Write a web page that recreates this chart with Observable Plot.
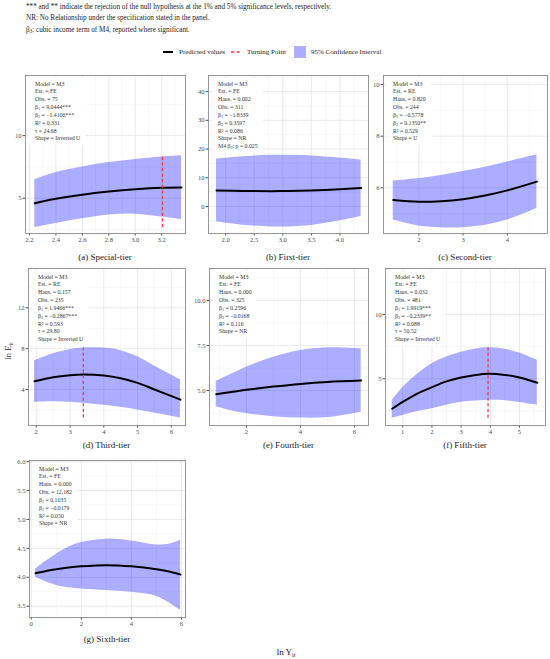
<!DOCTYPE html>
<html><head><meta charset="utf-8">
<script src="https://cdn.jsdelivr.net/npm/d3@7"></script>
<script src="https://cdn.jsdelivr.net/npm/@observablehq/plot@0.6"></script>
<style>
body{margin:0;background:#fff;}
#root{position:relative;width:550px;height:659px;font-family:"Liberation Serif","Times New Roman",serif;overflow:hidden;background:#fff;}
.abs{position:absolute;white-space:nowrap;}
.note{left:26px;font-size:7.2px;line-height:11.7px;color:#1a1a1a}
.ann{position:absolute;background:#fff;font-size:5.8px;line-height:7.85px;padding:2.5px 5px 2px 6px;color:#333;white-space:nowrap}
.ann sub,.note sub{font-size:70%;vertical-align:-1px;line-height:0}
.cap{position:absolute;font-size:9px;transform:translate(-50%,-50%);color:#1a1a1a;white-space:nowrap}
.leg{position:absolute;font-size:7px;line-height:10px;color:#1a1a1a;white-space:nowrap;top:47px}
</style></head>
<body><div id="root"></div>
<script>
// ---------- data ----------
// (a) Special-tier
const aX   = [2.24, 2.4, 2.6, 2.8, 3.0, 3.2, 3.35];
const aFit = [4.6, 4.95, 5.28, 5.53, 5.72, 5.84, 5.86];
const aHi  = [6.47, 7.05, 7.5, 7.85, 8.1, 8.3, 8.4];
const aLo  = [2.65, 2.98, 3.35, 3.65, 3.72, 3.5, 3.3];
const aTP  = 3.206;
const aXTicks = [2.2, 2.4, 2.6, 2.8, 3.0, 3.2];
const aYTicks = [5, 10];
// (b) First-tier
const bX   = [1.84, 2.3, 2.8, 3.1, 3.5, 4.0, 4.37];
const bFit = [5.6, 5.4, 5.35, 5.4, 5.6, 6.0, 6.4];
const bHi  = [16.5, 17.3, 17.8, 17.8, 17.6, 16.9, 16.2];
const bLo  = [-5.3, -6.5, -7.1, -7.1, -6.6, -5.0, -3.5];
const bXTicks = [2.0, 2.5, 3.0, 3.5, 4.0];
const bYTicks = [0, 10, 20, 30, 40];
// (c) Second-tier
const cX   = [1.42, 2.0, 2.5, 3.0, 3.5, 4.0, 4.67];
const cFit = [5.53, 5.46, 5.48, 5.56, 5.7, 5.9, 6.24];
const cHi  = [6.26, 6.36, 6.48, 6.63, 6.8, 7.0, 7.28];
const cLo  = [4.75, 4.52, 4.45, 4.45, 4.55, 4.75, 5.2];
const cXTicks = [2, 3, 4];
const cYTicks = [6, 8, 10];
// (d) Third-tier
const dX   = [1.95, 2.5, 3.0, 3.4, 4.0, 4.5, 5.0, 5.5, 6.27];
const dFit = [4.8, 5.2, 5.4, 5.47, 5.37, 5.1, 4.65, 4.0, 3.0];
const dHi  = [6.8, 7.5, 7.9, 8.05, 8.05, 7.8, 7.2, 6.3, 4.95];
const dLo  = [2.75, 2.8, 2.75, 2.65, 2.45, 2.25, 2.0, 1.7, 1.2];
const dTP  = 3.394;
const dXTicks = [2, 3, 4, 5, 6];
const dYTicks = [4, 8, 12];
// (e) Fourth-tier
const eX   = [0.88, 1.5, 2, 3, 4, 5, 6.25];
const eFit = [4.8, 4.93, 5.04, 5.22, 5.37, 5.48, 5.56];
const eHi  = [5.52, 5.95, 6.3, 6.85, 7.22, 7.38, 7.32];
const eLo  = [4.1, 3.85, 3.72, 3.55, 3.47, 3.5, 3.8];
const eXTicks = [2, 4, 6];
const eYTicks = [5.0, 7.5, 10.0];
// (f) Fifth-tier
const fX   = [0.64, 1, 1.5, 2, 2.5, 3, 3.5, 3.94, 4.5, 5, 5.61];
const fFit = [2.67, 3.2, 3.85, 4.35, 4.8, 5.1, 5.3, 5.39, 5.3, 5.1, 4.69];
const fHi  = [3.32, 4.3, 5.35, 6.17, 6.7, 7.07, 7.32, 7.41, 7.3, 7.0, 6.43];
const fLo  = [1.94, 2.15, 2.45, 2.67, 2.95, 3.18, 3.28, 3.32, 3.3, 3.15, 2.94];
const fTP  = 3.922;
const fXTicks = [1, 2, 3, 4, 5];
const fYTicks = [5, 10];
// (g) Sixth-tier
const gX   = [0.17, 0.6, 1, 1.5, 2, 3, 4, 5, 5.5, 5.96];
const gFit = [4.07, 4.11, 4.14, 4.17, 4.19, 4.21, 4.19, 4.14, 4.1, 4.05];
const gHi  = [4.14, 4.28, 4.4, 4.52, 4.6, 4.66, 4.63, 4.56, 4.57, 4.64];
const gLo  = [4.0, 3.92, 3.86, 3.82, 3.8, 3.77, 3.74, 3.67, 3.56, 3.43];
const gXTicks = [0, 2, 4, 6];
const gYTicks = [3.5, 4.0, 4.5, 5.0, 5.5, 6.0];

const panelTitles = ["(a) Special-tier","(b) First-tier","(c) Second-tier","(d) Third-tier","(e) Fourth-tier","(f) Fifth-tier","(g) Sixth-tier"];
const annA = ["Model = M3","Est. = FE","Obs. = 75","β<sub>1</sub> = 9.0444***","β<sub>2</sub> = −1.4106***","R² = 0.331","τ = 24.68","Shape = Inverted U"];
const annB = ["Model = M3","Est. = FE","Haus. = 0.002","Obs. = 311","β<sub>1</sub> = −1.8339","β<sub>2</sub> = 0.3597","R² = 0.086","Shape = NR","M4 β<sub>3</sub>: p = 0.025"];
const annC = ["Model = M3","Est. = RE","Haus. = 0.820","Obs. = 244","β<sub>1</sub> = −0.5778","β<sub>2</sub> = 0.1350**","R² = 0.529","Shape = U"];
const annD = ["Model = M3","Est. = RE","Haus. = 0.157","Obs. = 235","β<sub>1</sub> = 1.9466***","β<sub>2</sub> = −0.2867***","R² = 0.593","τ = 29.80","Shape = Inverted U"];
const annE = ["Model = M3","Est. = FE","Haus. = 0.000","Obs. = 325","β<sub>1</sub> = 0.2596","β<sub>2</sub> = −0.0168","R² = 0.116","Shape = NR"];
const annF = ["Model = M3","Est. = FE","Haus. = 0.032","Obs. = 481","β<sub>1</sub> = 1.9919***","β<sub>2</sub> = −0.2339**","R² = 0.088","τ = 50.52","Shape = Inverted U"];
const annG = ["Model = M3","Est. = FE","Haus. = 0.000","Obs. = 12,182","β<sub>1</sub> = 0.1035","β<sub>2</sub> = −0.0179","R² = 0.050","Shape = NR"];

const notes = [
  "*** and ** indicate the rejection of the null hypothesis at the 1% and 5% significance levels, respectively.",
  "NR: No Relationship under the specification stated in the panel.",
  "β<sub>3</sub>: cubic income term of M4, reported where significant."
];
const legendLabels = ["Predicted values", "Turning Point", "95% Confidence Interval"];

// ---------- layout ----------
const root = document.getElementById("root");
const f1 = d3.format(".1f");

function mids(t, lo, hi) {
  const step = t[1] - t[0];
  const out = [];
  for (let v = t[0] - step / 2; v <= hi; v += step) if (v >= lo) out.push(+v.toFixed(4));
  return out;
}

function makePanel(p) {
  const ML = 26, MR = 6, MT = 4, MB = 16;
  const w = p.fx[1] - p.fx[0], h = p.fy[1] - p.fy[0];
  const rows = p.x.map((x, i) => ({x, fit: p.fit[i], lo: p.lo[i], hi: p.hi[i]}));
  const marks = [
    Plot.ruleX(mids(p.xTicks, p.xDom[0], p.xDom[1]), {stroke: "#eeeeee", strokeWidth: 0.45}),
    Plot.ruleY(mids(p.yTicks, p.yDom[0], p.yDom[1]), {stroke: "#eeeeee", strokeWidth: 0.45}),
    Plot.ruleX(p.xTicks, {stroke: "#e4e4e4", strokeWidth: 0.8}),
    Plot.ruleY(p.yTicks, {stroke: "#e4e4e4", strokeWidth: 0.8}),
    Plot.areaY(rows, {x: "x", y1: "lo", y2: "hi", fill: "#0000ff", fillOpacity: 0.32, curve: "catmull-rom", clip: true}),
    Plot.lineY(rows, {x: "x", y: "fit", stroke: "#000", strokeWidth: 2, curve: "catmull-rom", clip: true})
  ];
  if (p.tp != null) {
    marks.push(Plot.ruleX([{x: p.tp, y1: d3.min(p.lo), y2: d3.max(p.hi)}],
      {x: "x", y1: "y1", y2: "y2", stroke: "#ee3d4c", strokeWidth: 1.3, strokeDasharray: "3.2,2.4"}));
  }
  marks.push(Plot.frame({stroke: "#8c8c8c", strokeWidth: 0.9}));
  const svg = Plot.plot({
    width: w + ML + MR, height: h + MT + MB,
    marginLeft: ML, marginRight: MR, marginTop: MT, marginBottom: MB,
    style: {fontFamily: "Liberation Serif, serif", fontSize: "6.6px", color: "#4d4d4d", background: "none", overflow: "visible"},
    x: {domain: p.xDom, ticks: p.xTicks, tickFormat: p.xFmt, tickSize: 2.5, tickPadding: 1.5, label: null},
    y: {domain: p.yDom, ticks: p.yTicks, tickFormat: p.yFmt, tickSize: 2.5, tickPadding: 1.5, label: null},
    marks
  });
  svg.style.position = "absolute";
  svg.style.left = (p.fx[0] - ML) + "px";
  svg.style.top = (p.fy[0] - MT) + "px";
  root.appendChild(svg);

  const ann = document.createElement("div");
  ann.className = "ann";
  ann.style.left = (p.fx[0] + 4) + "px";
  ann.style.top = (p.fy[0] + 3) + "px";
  ann.innerHTML = p.ann.join("<br>");
  root.appendChild(ann);

  const cap = document.createElement("div");
  cap.className = "cap";
  cap.style.left = ((p.fx[0] + p.fx[1]) / 2) + "px";
  cap.style.top = p.capY + "px";
  cap.textContent = p.title;
  root.appendChild(cap);
}

const panels = [
  {fx: [25, 185], fy: [75, 233], xDom: [2.17, 3.38], yDom: [2.18, 14.8], x: aX, fit: aFit, lo: aLo, hi: aHi, tp: aTP, xTicks: aXTicks, yTicks: aYTicks, xFmt: f1, yFmt: d3.format("d"), ann: annA, title: panelTitles[0], capY: 257},
  {fx: [208, 368], fy: [75, 233], xDom: [1.70, 4.50], yDom: [-9.4, 45.6], x: bX, fit: bFit, lo: bLo, hi: bHi, tp: null, xTicks: bXTicks, yTicks: bYTicks, xFmt: f1, yFmt: d3.format("d"), ann: annB, title: panelTitles[1], capY: 257},
  {fx: [383, 547], fy: [75, 233], xDom: [1.2, 4.91], yDom: [4.23, 10.35], x: cX, fit: cFit, lo: cLo, hi: cHi, tp: null, xTicks: cXTicks, yTicks: cYTicks, xFmt: d3.format("d"), yFmt: d3.format("d"), ann: annC, title: panelTitles[2], capY: 257},
  {fx: [28, 185], fy: [268, 425], xDom: [1.77, 6.42], yDom: [0.47, 15.85], x: dX, fit: dFit, lo: dLo, hi: dHi, tp: dTP, xTicks: dXTicks, yTicks: dYTicks, xFmt: d3.format("d"), yFmt: d3.format("d"), ann: annD, title: panelTitles[3], capY: 445},
  {fx: [209, 368], fy: [268, 425], xDom: [0.63, 6.52], yDom: [3.06, 11.78], x: eX, fit: eFit, lo: eLo, hi: eHi, tp: null, xTicks: eXTicks, yTicks: eYTicks, xFmt: d3.format("d"), yFmt: f1, ann: annE, title: panelTitles[4], capY: 445},
  {fx: [385, 545], fy: [268, 425], xDom: [0.41, 5.89], yDom: [1.37, 13.57], x: fX, fit: fFit, lo: fLo, hi: fHi, tp: fTP, xTicks: fXTicks, yTicks: fYTicks, xFmt: d3.format("d"), yFmt: d3.format("d"), ann: annF, title: panelTitles[5], capY: 445},
  {fx: [29, 185], fy: [460, 617], xDom: [-0.07, 6.16], yDom: [3.305, 6.02], x: gX, fit: gFit, lo: gLo, hi: gHi, tp: null, xTicks: gXTicks, yTicks: gYTicks, xFmt: d3.format("d"), yFmt: f1, ann: annG, title: panelTitles[6], capY: 639}
];
panels.forEach(makePanel);

// notes
const noteDiv = document.createElement("div");
noteDiv.className = "abs note";
noteDiv.style.top = "1.5px";
noteDiv.innerHTML = notes.join("<br>");
root.appendChild(noteDiv);

// legend keys
const ns = "http://www.w3.org/2000/svg";
const leg = document.createElementNS(ns, "svg");
leg.setAttribute("width", 550); leg.setAttribute("height", 24);
leg.style.position = "absolute"; leg.style.left = "0px"; leg.style.top = "40px";
leg.innerHTML = `<line x1="163" x2="173" y1="12" y2="12" stroke="#000" stroke-width="2"/>
<line x1="231" x2="241" y1="12" y2="12" stroke="#ee3d4c" stroke-width="1.3" stroke-dasharray="3.2,2.4"/>
<rect x="294" y="6" width="12" height="12" fill="#0000ff" fill-opacity="0.32"/>`;
root.appendChild(leg);
[[179, legendLabels[0]], [247, legendLabels[1]], [311, legendLabels[2]]].forEach(([x, t]) => {
  const d = document.createElement("div");
  d.className = "leg"; d.style.left = x + "px"; d.textContent = t;
  root.appendChild(d);
});

// axis titles
const yt = document.createElement("div");
yt.className = "abs";
yt.style.cssText += "left:8px;top:351px;font-size:9px;color:#1a1a1a;transform:translate(-50%,-50%) rotate(-90deg);";
yt.innerHTML = "ln E<sub style='font-size:65%;vertical-align:-1.5px;line-height:0'>it</sub>";
root.appendChild(yt);
const xt = document.createElement("div");
xt.className = "abs";
xt.style.cssText += "left:286px;top:652px;font-size:9px;color:#1a1a1a;transform:translate(-50%,-50%);";
xt.innerHTML = "ln Y<sub style='font-size:65%;vertical-align:-1.5px;line-height:0'>it</sub>";
root.appendChild(xt);
</script>
</body></html>
